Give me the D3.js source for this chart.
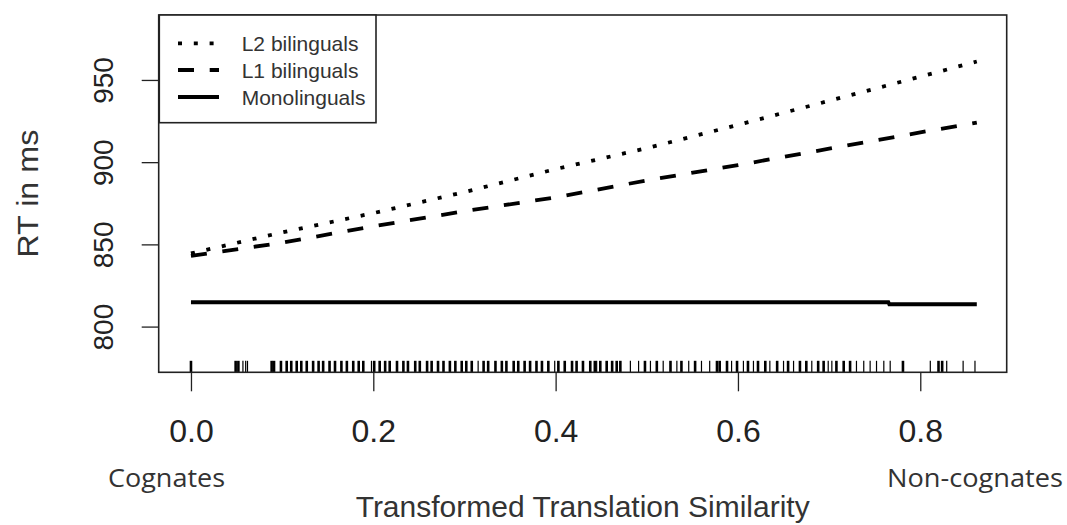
<!DOCTYPE html>
<html>
<head>
<meta charset="utf-8">
<script src="https://cdn.jsdelivr.net/npm/d3@7"></script>
<style>
  html, body { margin: 0; padding: 0; background: #fff; }
  svg { display: block; }
</style>
</head>
<body>
<svg id="chart" width="1067" height="525"></svg>
<script>
// ---- data ----
const seriesNames = ["L2 bilinguals", "L1 bilinguals", "Monolinguals"];
const xPoints = [0, 0.1, 0.2, 0.3, 0.4, 0.5, 0.6, 0.7, 0.8, 0.862];
const l2Values = [844.5, 857.3, 869.0, 881.8, 895.8, 908.5, 922.7, 937.3, 952.0, 961.2];
const l1Values = [843.0, 851.0, 861.0, 870.2, 878.6, 888.9, 898.2, 908.2, 918.1, 924.0];
const monoX = [0, 0.765, 0.766, 0.862];
const monoValues = [814.8, 814.8, 813.6, 813.6];
const xTicks = [0.0, 0.2, 0.4, 0.6, 0.8];
const yTicks = [800, 850, 900, 950];
const rugThick = [0.000, 0.049, 0.052, 0.0885, 0.0911, 0.0987, 0.105, 0.110, 0.116, 0.121, 0.127, 0.134,
  0.140, 0.145, 0.152, 0.158, 0.165, 0.171, 0.178, 0.184, 0.189, 0.201, 0.207, 0.213, 0.218, 0.226,
  0.233, 0.238, 0.246, 0.251, 0.259, 0.264, 0.271, 0.277, 0.284, 0.290, 0.297, 0.302, 0.308, 0.321,
  0.326, 0.334, 0.341, 0.346, 0.354, 0.359, 0.366, 0.372, 0.379, 0.385, 0.392, 0.403, 0.410, 0.418,
  0.423, 0.430, 0.438, 0.443, 0.449, 0.456, 0.462, 0.467, 0.471, 0.498, 0.511, 0.526, 0.538, 0.553,
  0.577, 0.580, 0.588, 0.599, 0.611, 0.622, 0.630, 0.643, 0.655, 0.668, 0.675, 0.688, 0.694, 0.708,
  0.716, 0.723, 0.781, 0.820, 0.824];
const rugThin = [0.057, 0.060, 0.062, 0.198, 0.315, 0.399, 0.445, 0.482, 0.491, 0.504, 0.518, 0.533,
  0.546, 0.560, 0.569, 0.593, 0.606, 0.617, 0.635, 0.650, 0.661, 0.681, 0.699, 0.703, 0.730, 0.738,
  0.745, 0.752, 0.760, 0.767, 0.811, 0.829, 0.847, 0.860];
const xLabel = "Transformed Translation Similarity";
const yLabel = "RT in ms";
const xEndLabels = ["Cognates", "Non-cognates"];

// ---- layout ----
const svg = d3.select("#chart");
const plot = { left: 158.7, right: 1006.7, top: 15, bottom: 372.3 };
const x = d3.scaleLinear().domain([-0.0354, 0.8948]).range([plot.left, plot.right]);
const y = d3.scaleLinear().domain([772.2, 989.5]).range([plot.bottom, plot.top]);
const font = "'Liberation Sans', Arial, sans-serif";

// rug
svg.append("g").selectAll("line").data(rugThick).join("line")
  .attr("x1", d => x(d)).attr("x2", d => x(d))
  .attr("y1", plot.bottom).attr("y2", plot.bottom - 11.5)
  .attr("stroke", "#000").attr("stroke-width", 2.6);
svg.append("g").selectAll("line").data(rugThin).join("line")
  .attr("x1", d => x(d)).attr("x2", d => x(d))
  .attr("y1", plot.bottom).attr("y2", plot.bottom - 11.5)
  .attr("stroke", "#000").attr("stroke-width", 1.2);

// lines
const line = d3.line().x(d => x(d[0])).y(d => y(d[1]));
const series = [
  { pts: xPoints.map((v, i) => [v, l2Values[i]]), dash: "4,11.8" },
  { pts: xPoints.map((v, i) => [v, l1Values[i]]), dash: "16,15.7" },
  { pts: monoX.map((v, i) => [v, monoValues[i]]), dash: null }
];
svg.append("g").selectAll("path").data(series).join("path")
  .attr("d", d => line(d.pts))
  .attr("fill", "none").attr("stroke", "#000").attr("stroke-width", 3.8)
  .attr("stroke-dasharray", d => d.dash);

// box
svg.append("rect")
  .attr("x", plot.left).attr("y", plot.top)
  .attr("width", plot.right - plot.left).attr("height", plot.bottom - plot.top)
  .attr("fill", "none").attr("stroke", "#222").attr("stroke-width", 1.6);

// x axis
const xAxis = svg.append("g").attr("transform", `translate(0,${plot.bottom})`)
  .call(d3.axisBottom(x).tickValues(xTicks).tickSize(19).tickFormat(d3.format(".1f")));
xAxis.select(".domain").remove();
xAxis.selectAll(".tick line").attr("stroke", "#222").attr("stroke-width", 1.3);
xAxis.selectAll(".tick text").attr("y", 442 - plot.bottom).attr("dy", 0)
  .attr("font-family", font).attr("font-size", 32).attr("fill", "#222");

// y axis
const yAxis = svg.append("g").attr("transform", `translate(${plot.left},0)`)
  .call(d3.axisLeft(y).tickValues(yTicks).tickSize(17));
yAxis.select(".domain").remove();
yAxis.selectAll(".tick line").attr("stroke", "#222").attr("stroke-width", 1.3);
yAxis.selectAll(".tick text")
  .attr("transform", "rotate(-90)")
  .attr("x", 0).attr("y", 113 - plot.left).attr("dy", 0)
  .attr("text-anchor", "middle")
  .attr("font-family", font).attr("font-size", 28).attr("fill", "#222");

// axis titles
svg.append("text")
  .attr("transform", `translate(38,${(plot.top + plot.bottom) / 2}) rotate(-90)`)
  .attr("text-anchor", "middle")
  .attr("font-family", font).attr("font-size", 29).attr("fill", "#333")
  .attr("textLength", 128).attr("lengthAdjust", "spacingAndGlyphs")
  .text(yLabel);
svg.append("text")
  .attr("x", (plot.left + plot.right) / 2).attr("y", 517)
  .attr("text-anchor", "middle")
  .attr("font-family", font).attr("font-size", 30).attr("fill", "#333")
  .text(xLabel);
svg.append("text")
  .attr("x", 166.5).attr("y", 486.7).attr("text-anchor", "middle")
  .attr("font-family", "'Open Sans', sans-serif").attr("font-size", 25).attr("fill", "#333")
  .attr("textLength", 117).attr("lengthAdjust", "spacingAndGlyphs")
  .text(xEndLabels[0]);
svg.append("text")
  .attr("x", 975).attr("y", 486.7).attr("text-anchor", "middle")
  .attr("font-family", "'Open Sans', sans-serif").attr("font-size", 25).attr("fill", "#333")
  .attr("textLength", 176).attr("lengthAdjust", "spacingAndGlyphs")
  .text(xEndLabels[1]);

// legend
const legend = svg.append("g");
legend.append("rect")
  .attr("x", 159.3).attr("y", plot.top).attr("width", 376 - 159.3).attr("height", 122.7 - plot.top)
  .attr("fill", "#fff").attr("stroke", "#222").attr("stroke-width", 1.6);
const legY = [43.3, 70, 97];
const legDash = ["4,11.8", "16,15.7", null];
seriesNames.forEach((name, i) => {
  legend.append("line")
    .attr("x1", 178).attr("x2", 219).attr("y1", legY[i]).attr("y2", legY[i])
    .attr("stroke", "#000").attr("stroke-width", 3.8).attr("stroke-dasharray", legDash[i]);
  legend.append("text")
    .attr("x", 241.7).attr("y", legY[i] + 7.8)
    .attr("font-family", font).attr("font-size", 21).attr("fill", "#333")
    .text(name);
});
</script>
</body>
</html>
